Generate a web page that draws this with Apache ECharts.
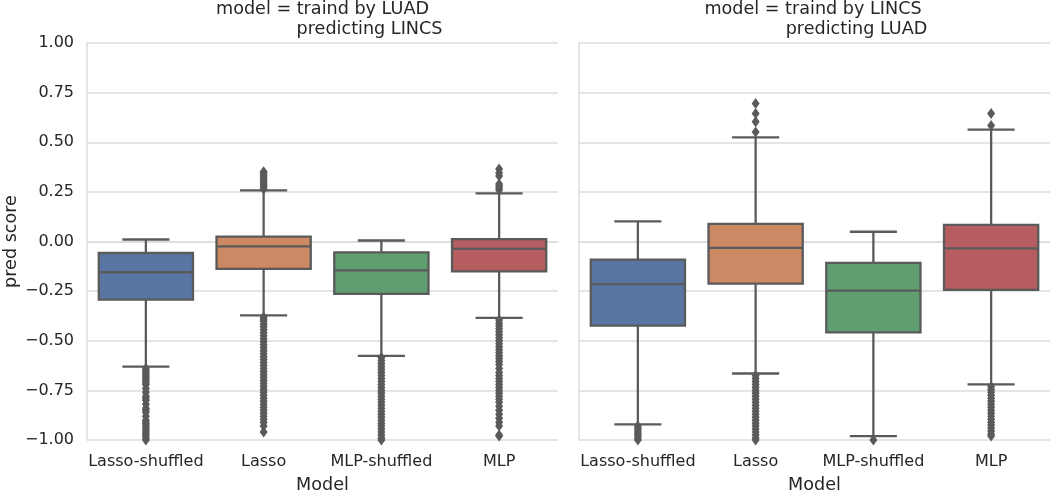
<!DOCTYPE html>
<html>
<head>
<meta charset="utf-8">
<script src="https://cdn.jsdelivr.net/npm/echarts@6/dist/echarts.min.js"></script>
<style>html,body{margin:0;padding:0;background:#fff;}#c{width:1050px;height:490px;}</style>
</head>
<body>
<div id="c"></div>
<script>
// ---- data ----
const categories = ['Lasso-shuffled', 'Lasso', 'MLP-shuffled', 'MLP'];
const yTicks = [-1.0, -0.75, -0.5, -0.25, 0.0, 0.25, 0.5, 0.75, 1.0];
const panelTitles = [
  ['model = traind by LUAD', 'predicting LINCS'],
  ['model = traind by LINCS', 'predicting LUAD']
];
// [lowerWhisker, Q1, median, Q3, upperWhisker] per category
const statsLeft = [
  [-0.63, -0.293, -0.155, -0.058, 0.01],
  [-0.372, -0.138, -0.025, 0.025, 0.258],
  [-0.576, -0.264, -0.145, -0.055, 0.005],
  [-0.385, -0.151, -0.037, 0.012, 0.242]
];
const statsRight = [
  [-0.921, -0.424, -0.215, -0.091, 0.101],
  [-0.665, -0.212, -0.032, 0.089, 0.525],
  [-0.98, -0.458, -0.247, -0.108, 0.049],
  [-0.72, -0.244, -0.035, 0.084, 0.564]
];
// outliers per category
const outliersLeft = [
  [-0.64,-0.65,-0.66,-0.67,-0.68,-0.69,-0.70,-0.71,-0.72,-0.74,-0.76,-0.78,-0.79,-0.80,-0.82,-0.84,-0.85,-0.86,-0.88,-0.90,-0.91,-0.92,-0.93,-0.94,-0.95,-0.96,-0.97,-0.98,-0.99,-1.0],
  [0.265,0.275,0.285,0.295,0.305,0.315,0.325,0.335,0.345,0.352,
   -0.38,-0.39,-0.40,-0.415,-0.43,-0.445,-0.46,-0.475,-0.49,-0.505,-0.52,-0.535,-0.55,-0.565,-0.58,-0.595,-0.61,-0.625,-0.64,-0.655,-0.67,-0.685,-0.70,-0.715,-0.73,-0.745,-0.76,-0.775,-0.79,-0.805,-0.82,-0.835,-0.85,-0.865,-0.88,-0.895,-0.91,-0.93,-0.96],
  [-0.585,-0.60,-0.615,-0.63,-0.645,-0.66,-0.675,-0.69,-0.705,-0.72,-0.735,-0.75,-0.765,-0.78,-0.795,-0.81,-0.825,-0.84,-0.855,-0.87,-0.885,-0.90,-0.915,-0.93,-0.945,-0.96,-0.975,-0.99,-1.0],
  [0.26,0.27,0.28,0.29,0.33,0.345,0.365,
   -0.395,-0.41,-0.425,-0.44,-0.455,-0.47,-0.485,-0.50,-0.515,-0.53,-0.545,-0.56,-0.575,-0.59,-0.605,-0.62,-0.64,-0.66,-0.675,-0.69,-0.705,-0.72,-0.735,-0.75,-0.765,-0.78,-0.795,-0.81,-0.83,-0.85,-0.87,-0.89,-0.91,-0.93,-0.975,-0.98]
];
const outliersRight = [
  [-0.93,-0.94,-0.95,-0.96,-0.97,-0.98,-0.99,-1.0],
  [0.552,0.603,0.645,0.695,
   -0.675,-0.69,-0.705,-0.72,-0.735,-0.75,-0.765,-0.78,-0.795,-0.81,-0.825,-0.84,-0.855,-0.87,-0.885,-0.90,-0.915,-0.93,-0.945,-0.96,-0.975,-0.99,-1.0],
  [-1.0],
  [0.584,0.645,
   -0.73,-0.745,-0.76,-0.775,-0.79,-0.805,-0.82,-0.835,-0.85,-0.865,-0.88,-0.895,-0.91,-0.925,-0.94,-0.955,-0.97,-0.98]
];
const boxColors = ['#5875a4', '#cc8963', '#5f9e6e', '#b55d60'];

// ---- chart ----
const lineColor = '#5a5a5a';
const gridColor = '#dcdcdc';
const textColor = '#262626';
const fontFamily = 'DejaVu Sans';

function fmt(v) { return v.toFixed(2).replace('-', '\u2212'); }

function boxRender(params, api) {
  const c = api.value(0);
  const lo = api.coord([c, api.value(1)]);
  const q1 = api.coord([c, api.value(2)]);
  const md = api.coord([c, api.value(3)]);
  const q3 = api.coord([c, api.value(4)]);
  const hi = api.coord([c, api.value(5)]);
  const band = api.size([1, 0])[0];
  const w = band * 0.8;
  const cx = lo[0];
  const lw = 2.3;
  const ls = { stroke: lineColor, lineWidth: lw, fill: null };
  return {
    type: 'group',
    children: [
      { type: 'line', shape: { x1: cx, y1: q1[1], x2: cx, y2: lo[1] }, style: ls },
      { type: 'line', shape: { x1: cx, y1: q3[1], x2: cx, y2: hi[1] }, style: ls },
      { type: 'line', shape: { x1: cx - w / 4, y1: lo[1], x2: cx + w / 4, y2: lo[1] }, style: ls },
      { type: 'line', shape: { x1: cx - w / 4, y1: hi[1], x2: cx + w / 4, y2: hi[1] }, style: ls },
      { type: 'rect', shape: { x: cx - w / 2, y: q3[1], width: w, height: q1[1] - q3[1] },
        style: { fill: boxColors[c], stroke: lineColor, lineWidth: lw } },
      { type: 'line', shape: { x1: cx - w / 2, y1: md[1], x2: cx + w / 2, y2: md[1] }, style: ls }
    ]
  };
}

function boxData(stats) {
  return stats.map((s, i) => [i, s[0], s[1], s[2], s[3], s[4]]);
}
function flierData(outs) {
  const d = [];
  outs.forEach((arr, i) => arr.forEach(v => d.push([i, v])));
  return d;
}

const grids = [
  { left: 87, top: 43, width: 471, height: 397, outerBoundsMode: 'none', containLabel: false },
  { left: 579, top: 43, width: 471, height: 397, outerBoundsMode: 'none', containLabel: false }
];

const xAxes = [0, 1].map(i => ({
  type: 'category', gridIndex: i, data: categories, boundaryGap: true,
  name: 'Model', nameLocation: 'middle', nameGap: 36,
  nameTextStyle: { color: textColor, fontSize: 17.6, fontFamily },
  axisLine: { show: true, lineStyle: { color: gridColor, width: 1.5 } },
  axisTick: { show: false },
  axisLabel: { color: textColor, fontSize: 16, fontFamily, margin: 14, interval: 0 },
  splitLine: { show: false }
}));

const yAxes = [0, 1].map(i => ({
  type: 'value', gridIndex: i, min: -1, max: 1, interval: 0.25,
  name: i === 0 ? 'pred score' : '', nameLocation: 'middle', nameGap: 67,
  nameTextStyle: { color: textColor, fontSize: 17.6, fontFamily },
  axisLine: { show: true, lineStyle: { color: gridColor, width: 1.5 } },
  axisTick: { show: false },
  axisLabel: { show: i === 0, color: textColor, fontSize: 16, fontFamily, margin: 13,
    formatter: v => fmt(v) },
  splitLine: { show: true, lineStyle: { color: gridColor, width: 1.5 } }
}));

const series = [];
[statsLeft, statsRight].forEach((st, i) => {
  series.push({
    type: 'custom', xAxisIndex: i, yAxisIndex: i,
    data: boxData(st), renderItem: boxRender,
    encode: { x: 0, y: [1, 2, 3, 4, 5] }, z: 2, silent: true
  });
});
[outliersLeft, outliersRight].forEach((o, i) => {
  series.push({
    type: 'scatter', xAxisIndex: i, yAxisIndex: i,
    data: flierData(o), symbol: 'diamond', symbolSize: [8, 11],
    itemStyle: { color: lineColor, opacity: 1 }, z: 3, silent: true
  });
});

const graphics = [];
const titleCenters = [[322.5, 369.5], [813, 856.5]];
panelTitles.forEach((t, i) => {
  t.forEach((line, j) => {
    graphics.push({
      type: 'text', x: titleCenters[i][j], y: j === 0 ? 0 : 20,
      style: { text: line, fill: textColor, font: '17.6px "DejaVu Sans"', textAlign: 'center', textVerticalAlign: 'top' }
    });
  });
});

const chart = echarts.init(document.getElementById('c'), null, { renderer: 'canvas' });
chart.setOption({
  animation: false,
  backgroundColor: '#fff',
  grid: grids,
  xAxis: xAxes,
  yAxis: yAxes,
  series: series,
  graphic: graphics
});
</script>
</body>
</html>
